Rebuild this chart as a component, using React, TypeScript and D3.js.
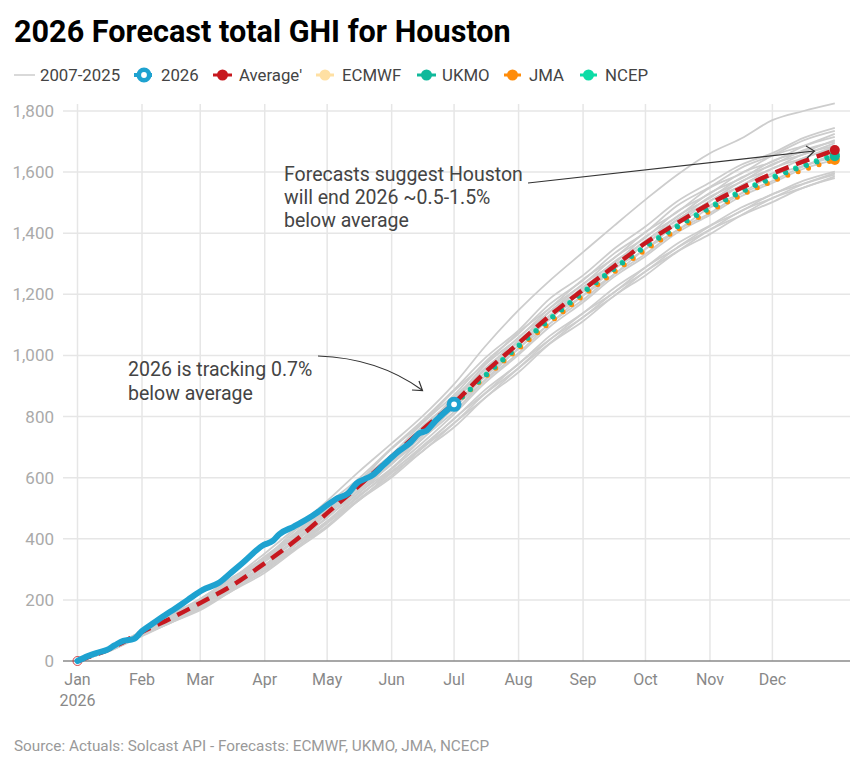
import React from "react";
import * as d3 from "d3";

const FONT = "Roboto, sans-serif";

const monthLabels = ["Jan", "Feb", "Mar", "Apr", "May", "Jun", "Jul", "Aug", "Sep", "Oct", "Nov", "Dec"];
const monthDays = [0, 31, 59, 90, 120, 151, 181, 212, 243, 273, 304, 334];
const yTicks = [0, 200, 400, 600, 800, 1000, 1200, 1400, 1600, 1800];

// half-monthly sample days for the history lines and the average
const historyDays = [0, 15, 31, 45, 59, 74, 90, 105, 120, 135, 151, 166, 181, 196, 212, 227, 243, 258, 273, 288, 304, 319, 334, 349, 364];

const history2007to2025 = [
  [0, 38, 99, 150, 204, 268, 352, 436, 524, 618, 712, 802, 906, 1030, 1148, 1245, 1338, 1425, 1510, 1590, 1662, 1710, 1770, 1800, 1825],
  [0, 36, 93, 139, 197, 259, 342, 418, 513, 596, 697, 788, 888, 992, 1082, 1186, 1262, 1349, 1422, 1503, 1566, 1624, 1662, 1712, 1745],
  [0, 43, 98, 154, 203, 272, 338, 421, 497, 588, 676, 779, 871, 979, 1071, 1168, 1246, 1334, 1403, 1489, 1551, 1614, 1655, 1704, 1735],
  [0, 34, 89, 133, 190, 252, 331, 407, 501, 586, 694, 781, 884, 973, 1076, 1155, 1249, 1319, 1404, 1468, 1549, 1595, 1654, 1686, 1725],
  [0, 40, 94, 148, 195, 269, 337, 429, 502, 586, 668, 769, 857, 969, 1058, 1154, 1233, 1320, 1386, 1470, 1530, 1597, 1634, 1684, 1715],
  [0, 37, 91, 136, 187, 248, 328, 399, 494, 573, 672, 757, 864, 953, 1059, 1143, 1234, 1302, 1389, 1452, 1532, 1579, 1636, 1667, 1705],
  [0, 41, 95, 147, 190, 262, 332, 415, 488, 576, 658, 762, 853, 959, 1044, 1144, 1220, 1307, 1373, 1454, 1515, 1582, 1623, 1672, 1700],
  [0, 35, 94, 140, 192, 250, 325, 394, 486, 566, 669, 748, 854, 944, 1049, 1130, 1224, 1293, 1376, 1441, 1519, 1568, 1626, 1658, 1695],
  [0, 39, 90, 138, 180, 250, 327, 411, 484, 569, 651, 749, 836, 944, 1034, 1132, 1208, 1294, 1364, 1444, 1504, 1569, 1611, 1659, 1686],
  [0, 36, 95, 142, 198, 255, 329, 393, 480, 556, 654, 738, 842, 931, 1034, 1118, 1212, 1282, 1366, 1431, 1506, 1556, 1612, 1646, 1685],
  [0, 38, 88, 135, 176, 244, 315, 395, 468, 559, 644, 742, 828, 934, 1022, 1122, 1196, 1284, 1348, 1429, 1491, 1556, 1596, 1646, 1678],
  [0, 33, 88, 130, 186, 243, 315, 382, 472, 548, 646, 728, 829, 921, 1024, 1104, 1196, 1266, 1349, 1408, 1484, 1531, 1589, 1621, 1660],
  [0, 35, 90, 139, 178, 242, 305, 385, 458, 549, 631, 729, 816, 919, 1008, 1104, 1182, 1266, 1332, 1409, 1466, 1529, 1571, 1619, 1650],
  [0, 38, 86, 128, 178, 240, 312, 384, 456, 536, 628, 715, 808, 911, 1002, 1094, 1174, 1258, 1325, 1401, 1460, 1521, 1565, 1611, 1640],
  [0, 32, 84, 128, 170, 236, 298, 380, 452, 541, 620, 705, 792, 888, 972, 1064, 1139, 1221, 1289, 1365, 1425, 1484, 1527, 1572, 1602],
  [0, 34, 86, 126, 177, 235, 307, 372, 455, 526, 620, 699, 793, 877, 973, 1052, 1138, 1207, 1288, 1352, 1423, 1472, 1528, 1562, 1597],
  [0, 36, 87, 133, 172, 234, 295, 371, 442, 529, 607, 698, 779, 875, 959, 1051, 1125, 1207, 1275, 1351, 1412, 1473, 1515, 1561, 1592],
  [0, 31, 84, 125, 172, 228, 299, 369, 451, 524, 615, 687, 778, 862, 958, 1040, 1125, 1195, 1275, 1339, 1411, 1459, 1515, 1549, 1586],
  [0, 33, 81, 126, 166, 228, 289, 365, 437, 524, 601, 688, 765, 861, 945, 1038, 1112, 1195, 1262, 1338, 1397, 1458, 1502, 1549, 1580],
];

const averageValues = [0, 38, 95, 140, 190, 246, 320, 396, 484, 572, 668, 758, 844, 945, 1040, 1130, 1215, 1292, 1368, 1432, 1497, 1548, 1595, 1635, 1672];

// actuals up to 1 Jul
const actualDays = [0, 5, 9, 14, 18, 22, 27, 31, 36, 42, 47, 53, 60, 68, 74, 80, 89, 94, 97, 104, 108, 114, 120, 125, 130, 134, 142, 147, 154, 160, 164, 168, 172, 176, 181];
const actualValues = [0, 16, 26, 36, 52, 66, 72, 98, 122, 150, 172, 200, 232, 256, 290, 325, 378, 394, 415, 440, 455, 480, 510, 533, 548, 580, 609, 641, 684, 715, 744, 755, 785, 811, 840];

const forecastDays = [181, 212, 243, 273, 304, 334, 364];
const ecmwfValues = [840, 1025, 1198, 1348, 1476, 1574, 1645];
const jmaValues = [840, 1022, 1195, 1345, 1472, 1570, 1640];
const ncepValues = [840, 1033, 1208, 1358, 1486, 1584, 1657];
const ukmoValues = [840, 1030, 1205, 1355, 1482, 1580, 1652];

const forecasts = [
  { name: "ECMWF", color: "#ffe0a3", values: ecmwfValues },
  { name: "JMA", color: "#ff8c0a", values: jmaValues },
  { name: "NCEP", color: "#0cdca6", values: ncepValues },
  { name: "UKMO", color: "#10b99b", values: ukmoValues },
];

const BLUE = "#1ea2d0";
const RED = "#c7181f";

const x = d3.scaleLinear().domain([0, 364]).range([77.5, 834.8]);
const y = d3.scaleLinear().domain([0, 1800]).range([661, 111]);

const line = d3
  .line<[number, number]>()
  .x((d) => x(d[0]))
  .y((d) => y(d[1]))
  .curve(d3.curveMonotoneX);

const path = (days: number[], values: number[]) =>
  line(days.map((d, i) => [d, values[i]] as [number, number])) as string;

const LegendText = ({ px, children }: { px: number; children: React.ReactNode }) => (
  <text x={px} y={80.5} fontSize={16.8} fill="#444">
    {children}
  </text>
);

const LegendDot = ({ x0, x1, color }: { x0: number; x1: number; color: string }) => (
  <g>
    <line x1={x0} x2={x1} y1={75} y2={75} stroke={color} strokeWidth={3} />
    <circle cx={(x0 + x1) / 2} cy={75} r={5.5} fill={color} />
  </g>
);

const colorOf = (name: string) => forecasts.find((f) => f.name === name)!.color;

export default function App() {
  return (
    <svg
      width={864}
      height={769}
      style={{ position: "absolute", left: 0, top: 0, display: "block", background: "#fff", fontFamily: FONT }}
    >
      <text x={14} y={42} fontSize={30.6} fontWeight={700} fill="#000">
        2026 Forecast total GHI for Houston
      </text>

      {/* legend */}
      <line x1={14} x2={35} y1={75} y2={75} stroke="#ccc" strokeWidth={1.5} />
      <LegendText px={40}>2007-2025</LegendText>
      <line x1={134} x2={152} y1={75} y2={75} stroke={BLUE} strokeWidth={4} />
      <circle cx={144} cy={75} r={5.2} fill="#fff" stroke={BLUE} strokeWidth={4.6} />
      <LegendText px={161}>2026</LegendText>
      <LegendDot x0={213} x1={232} color={RED} />
      <LegendText px={239}>Average'</LegendText>
      <LegendDot x0={316} x1={334} color={colorOf("ECMWF")} />
      <LegendText px={342}>ECMWF</LegendText>
      <LegendDot x0={417} x1={436} color={colorOf("UKMO")} />
      <LegendText px={442}>UKMO</LegendText>
      <LegendDot x0={504} x1={521} color={colorOf("JMA")} />
      <LegendText px={529}>JMA</LegendText>
      <LegendDot x0={580} x1={597} color={colorOf("NCEP")} />
      <LegendText px={605}>NCEP</LegendText>

      {/* grid */}
      {yTicks.slice(1).map((t) => (
        <line key={t} x1={63} x2={850} y1={y(t)} y2={y(t)} stroke="#e6e6e6" strokeWidth={1.5} />
      ))}
      {monthDays.map((d) => (
        <line key={d} x1={x(d)} x2={x(d)} y1={104} y2={661} stroke="#e6e6e6" strokeWidth={1.5} />
      ))}
      <line x1={63} x2={850} y1={y(0)} y2={y(0)} stroke="#8a8a8a" strokeWidth={1.5} />

      {yTicks.map((t) => (
        <text key={t} x={54} y={y(t) + 6} textAnchor="end" fontSize={17} fill="#aaa">
          {d3.format(",")(t)}
        </text>
      ))}
      {monthLabels.map((m, i) => (
        <text key={m} x={x(monthDays[i])} y={685} textAnchor="middle" fontSize={16} fill="#888">
          {m}
        </text>
      ))}
      <text x={x(0)} y={706} textAnchor="middle" fontSize={16} fill="#888">
        2026
      </text>

      {/* series */}
      {history2007to2025.map((vals, i) => (
        <path key={i} d={path(historyDays, vals)} fill="none" stroke="#cdcdcd" strokeWidth={1.8} />
      ))}
      {forecasts.map((f) => (
        <path
          key={f.name}
          d={path(forecastDays, f.values)}
          fill="none"
          stroke={f.color}
          strokeWidth={5}
          strokeLinecap="round"
          strokeDasharray="0 11"
        />
      ))}
      {forecasts.map((f) => (
        <circle key={f.name} cx={x(364)} cy={y(f.values[6])} r={5} fill={f.color} />
      ))}
      <circle cx={x(0)} cy={y(0)} r={4.5} fill="none" stroke={RED} strokeWidth={0.8} />
      <path
        d={path(historyDays, averageValues)}
        fill="none"
        stroke={RED}
        strokeWidth={4.5}
        strokeDasharray="14 8"
      />
      <circle cx={x(364)} cy={y(averageValues[24])} r={5} fill={RED} />
      <path
        d={path(actualDays, actualValues)}
        fill="none"
        stroke={BLUE}
        strokeWidth={6}
        strokeLinejoin="round"
        strokeLinecap="round"
      />
      <circle cx={x(181)} cy={y(840)} r={5.2} fill="#fff" stroke={BLUE} strokeWidth={4.6} />
      <circle cx={x(0)} cy={y(0)} r={1.5} fill={BLUE} />

      {/* annotations */}
      <g fontSize={19.5} fill="#444">
        <text x={284} y={181}>Forecasts suggest Houston</text>
        <text x={284} y={204}>will end 2026 ~0.5-1.5%</text>
        <text x={284} y={227}>below average</text>
        <text x={128} y={376}>2026 is tracking 0.7%</text>
        <text x={128} y={400}>below average</text>
      </g>
      <g fill="none" stroke="#333" strokeWidth={1.2}>
        <path d="M528,183 L814,151" />
        <path d="M806,146 L814.5,151 L807,158" />
        <path d="M318,356 Q378,358 422,390" />
        <path d="M412,390 L422.5,390.5 L419,381" />
      </g>

      <text x={14} y={751} fontSize={15.3} fill="#999">
        Source: Actuals: Solcast API - Forecasts: ECMWF, UKMO, JMA, NCECP
      </text>
    </svg>
  );
}
